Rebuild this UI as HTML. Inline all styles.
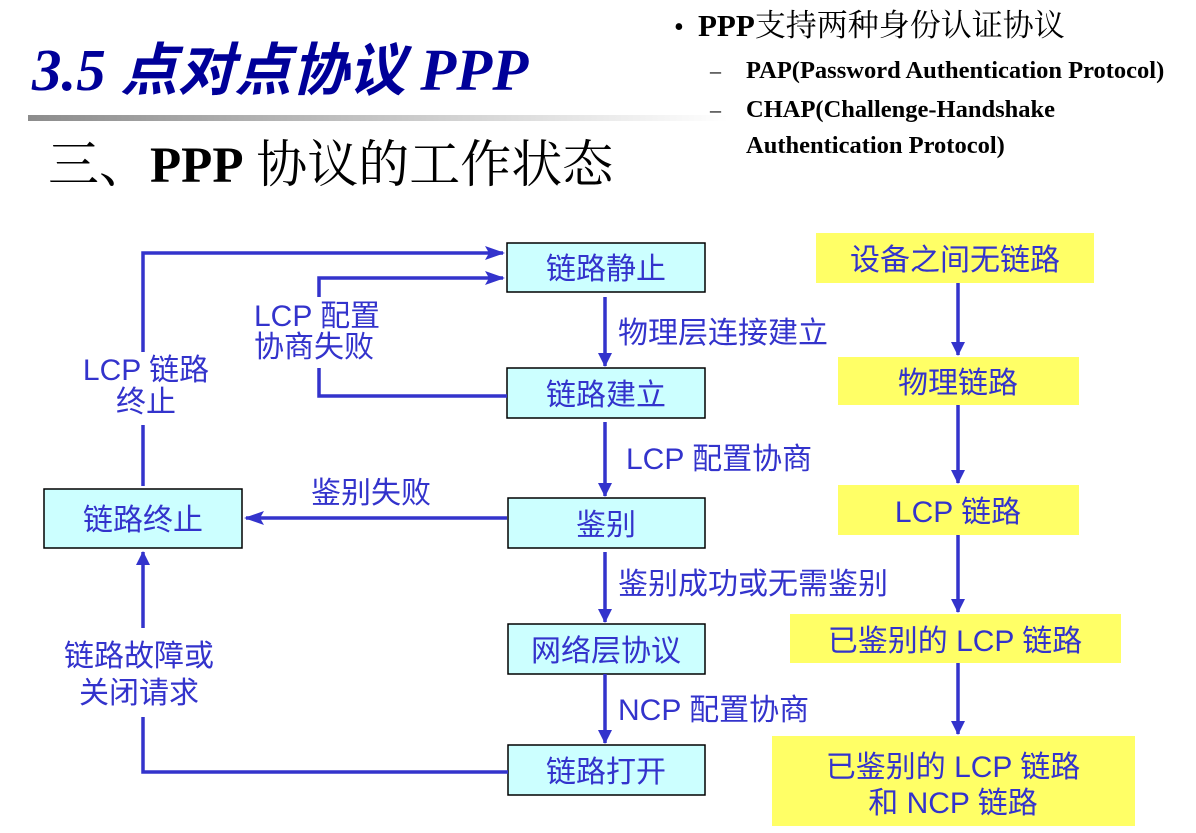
<!DOCTYPE html>
<html><head><meta charset="utf-8"><style>
html,body{margin:0;padding:0;background:#fff;}
body{width:1196px;height:833px;overflow:hidden;position:relative;}
svg{position:absolute;left:0;top:0;}
</style></head><body>
<svg width="1196" height="833" viewBox="0 0 1196 833" xmlns="http://www.w3.org/2000/svg">
<defs>
<linearGradient id="g" x1="0" x2="1" y1="0" y2="0">
<stop offset="0" stop-color="#8c8c8c"/><stop offset="1" stop-color="#ffffff"/>
</linearGradient>
<marker id="a" markerWidth="14" markerHeight="16" refX="13" refY="7" orient="auto" markerUnits="userSpaceOnUse">
<path d="M0,0 L14,7 L0,14 Z" fill="#3333cc"/>
</marker>
<marker id="b" markerWidth="20" markerHeight="14" refX="18" refY="7" orient="auto" markerUnits="userSpaceOnUse">
<path d="M0,0 L20,7 L0,14 L4,7 Z" fill="#3333cc"/>
</marker>
</defs>
<rect x="28" y="115" width="700" height="6" fill="url(#g)"/>
<text x="32" y="90" font-family="'Liberation Serif','Noto Serif CJK SC',serif" font-size="59" font-weight="bold" font-style="italic" fill="#000099">3.5 <tspan font-family="'Liberation Sans','Noto Sans CJK SC',sans-serif" font-size="57">点对点协议</tspan> PPP</text>
<text x="48" y="182" font-family="'Liberation Serif','Noto Serif CJK SC',serif" font-size="51" fill="#000">三、<tspan font-weight="bold">PPP</tspan> 协议的工作状态</text>
<g font-family="'Liberation Serif','Noto Serif CJK SC',serif" fill="#000">
<text x="674" y="36" font-size="28">•</text>
<text x="698" y="36" font-size="31" font-weight="bold">PPP<tspan font-weight="normal">支持两种身份认证协议</tspan></text>
<text x="710" y="78" font-size="22">–</text>
<text x="746" y="78" font-size="24.5" font-weight="bold">PAP(Password Authentication Protocol)</text>
<text x="710" y="117" font-size="22">–</text>
<text x="746" y="117" font-size="24.5" font-weight="bold">CHAP(Challenge-Handshake</text>
<text x="746" y="153" font-size="24.5" font-weight="bold">Authentication Protocol)</text>
</g>
<g fill="#ccffff" stroke="#000" stroke-width="1.5">
<rect x="507" y="243" width="198" height="49"/>
<rect x="507" y="368" width="198" height="50"/>
<rect x="508" y="498" width="197" height="50"/>
<rect x="508" y="624" width="197" height="50"/>
<rect x="508" y="745" width="197" height="50"/>
<rect x="44" y="489" width="198" height="59"/>
</g>
<g fill="#ffff66">
<rect x="816" y="233" width="278" height="50"/>
<rect x="838" y="357" width="241" height="48"/>
<rect x="838" y="485" width="241" height="50"/>
<rect x="790" y="614" width="331" height="49"/>
<rect x="772" y="736" width="363" height="90"/>
</g>
<g stroke="#3333cc" stroke-width="3.5" fill="none">
<polyline points="143,352 143,253 503,253" marker-end="url(#b)"/>
<line x1="143" y1="425" x2="143" y2="486"/>
<polyline points="319,297 319,278 503,278" marker-end="url(#b)"/>
<polyline points="319,368 319,396 507,396"/>
<line x1="605" y1="297" x2="605" y2="366" marker-end="url(#a)"/>
<line x1="605" y1="422" x2="605" y2="496" marker-end="url(#a)"/>
<line x1="605" y1="552" x2="605" y2="622" marker-end="url(#a)"/>
<line x1="605" y1="674" x2="605" y2="743" marker-end="url(#a)"/>
<line x1="507" y1="518" x2="246" y2="518" marker-end="url(#b)"/>
<line x1="143" y1="628" x2="143" y2="552" marker-end="url(#a)"/>
<polyline points="143,717 143,772 508,772"/>
<line x1="958" y1="283" x2="958" y2="355" marker-end="url(#a)"/>
<line x1="958" y1="405" x2="958" y2="483" marker-end="url(#a)"/>
<line x1="958" y1="535" x2="958" y2="612" marker-end="url(#a)"/>
<line x1="958" y1="663" x2="958" y2="734" marker-end="url(#a)"/>
</g>
<g font-family="'Liberation Sans','Noto Sans CJK SC',sans-serif" font-size="30" fill="#3333cc" text-anchor="middle">
<text x="606" y="279">链路静止</text>
<text x="606" y="405">链路建立</text>
<text x="606" y="535">鉴别</text>
<text x="606" y="661">网络层协议</text>
<text x="606" y="782">链路打开</text>
<text x="143" y="530">链路终止</text>
<text x="955" y="270">设备之间无链路</text>
<text x="958" y="393">物理链路</text>
<text x="958" y="522">LCP 链路</text>
<text x="955" y="651">已鉴别的 LCP 链路</text>
<text x="953" y="777">已鉴别的 LCP 链路</text>
<text x="953" y="813">和 NCP 链路</text>
<text x="146" y="380">LCP 链路</text>
<text x="146" y="412">终止</text>
<text x="139" y="666">链路故障或</text>
<text x="139" y="703">关闭请求</text>
<text x="371" y="503">鉴别失败</text>
</g>
<g font-family="'Liberation Sans','Noto Sans CJK SC',sans-serif" font-size="30" fill="#3333cc">
<text x="254" y="326">LCP 配置</text>
<text x="254" y="357">协商失败</text>
<text x="618" y="343">物理层连接建立</text>
<text x="626" y="469">LCP 配置协商</text>
<text x="618" y="594">鉴别成功或无需鉴别</text>
<text x="618" y="720">NCP 配置协商</text>
</g>
</svg>
</body></html>
